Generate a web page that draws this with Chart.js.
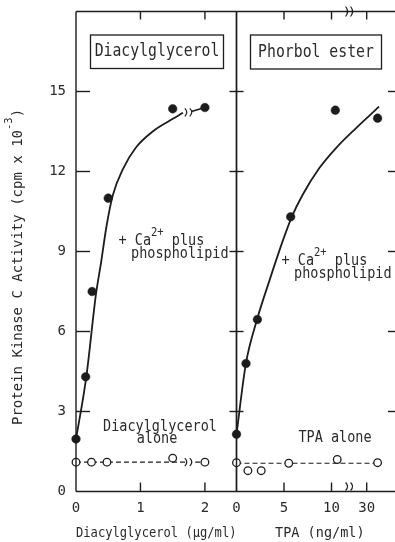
<!DOCTYPE html>
<html>
<head>
<meta charset="utf-8">
<script src="https://cdn.jsdelivr.net/npm/chart.js@4.4.1/dist/chart.umd.min.js"></script>
<style>
html, body { margin: 0; padding: 0; background: #fff; overflow: hidden; }
#wrap { position: relative; width: 395px; height: 542px; overflow: hidden; }
canvas { position: absolute; left: 0; top: 0; }
</style>
</head>
<body>
<div id="wrap">
  <canvas id="dgChart" width="395" height="542"></canvas>
  <canvas id="tpaChart" width="395" height="542"></canvas>
</div>
<script>
// activity axis, cpm x 10^-3
const yTicks = [0, 3, 6, 9, 12, 15];

// left panel: diacylglycerol (ug/ml)
const dgTicks = [0, 1, 2];
const dgDose = [0, 0.15, 0.25, 0.5, 1.5, 2.0];
const dgWithCa = [1.97, 4.3, 7.5, 11.0, 14.35, 14.4];
const dgAloneDose = [0, 0.24, 0.48, 1.5, 2.0];
const dgAlone = [1.1, 1.1, 1.1, 1.25, 1.1];
// hand drawn curves (null = break in the line)
const dgCurveX = [0, 0.16, 0.31, 0.39, 0.47, 0.57, 0.73, 0.93, 1.19, 1.45, 1.66, 1.72, 1.79, 2.0];
const dgCurveY = [1.96, 4.3, 7.4, 8.6, 9.9, 11.1, 12.1, 12.9, 13.5, 13.9, 14.2, null, 14.25, 14.4];
const dgAloneLineX = [0, 1.71, 1.78, 1.85, 2.0];
const dgAloneLineY = [1.1, 1.1, null, 1.1, 1.1];
const dgBreak = 1.75;

// right panel: TPA (ng/ml), positions in axis units (axis broken between 10 and 30)
const tpaTickPos = [0, 5, 10, 13.7];
const tpaTickLabels = ['0', '5', '10', '30'];
const tpaDose = [0, 1, 2.2, 5.7, 10.4, 14.85];
const tpaWithCa = [2.15, 4.8, 6.45, 10.3, 14.3, 14.0];
const tpaAloneDose = [0, 1.2, 2.6, 5.5, 10.6, 14.85];
const tpaAlone = [1.08, 0.78, 0.78, 1.06, 1.2, 1.08];
const tpaCurveX = [0, 0.98, 2.17, 3.43, 4.84, 5.82, 6.95, 8.7, 10.45, 12.56, 15.0];
const tpaCurveY = [2.15, 4.78, 6.46, 7.87, 9.37, 10.3, 11.12, 12.12, 12.87, 13.62, 14.43];
const tpaAloneLineX = [0, 14.85];
const tpaAloneLineY = [1.06, 1.06];
const tpaBreak = 11.9;

const ink = '#1c1c1c';
const txt = '#2a2a2a';
const mono = '"DejaVu Sans Mono", monospace';

Chart.defaults.font.family = mono;
Chart.defaults.color = txt;

function pts(xs, ys) {
    return xs.map((x, i) => ({x: x, y: ys[i]}));
}

function filledSet(xs, ys) {
    return {data: pts(xs, ys), showLine: false, pointRadius: 4.3, pointBackgroundColor: ink, pointBorderColor: ink, pointBorderWidth: 0.5, clip: false};
}
function openSet(xs, ys) {
    return {data: pts(xs, ys), showLine: false, pointRadius: 3.8, pointBackgroundColor: '#fff', pointBorderColor: ink, pointBorderWidth: 1.3, clip: false};
}
function curveSet(xs, ys) {
    return {data: pts(xs, ys), borderColor: ink, borderWidth: 1.8, pointRadius: 0, cubicInterpolationMode: 'monotone', spanGaps: false, clip: false};
}
function dashSet(xs, ys) {
    return {data: pts(xs, ys), borderColor: ink, borderWidth: 1.2, borderDash: [5, 3], pointRadius: 0, tension: 0, spanGaps: false, clip: false};
}

// keep the plot area exactly where the layout padding puts it
function fixSize(prop, size) {
    return s => {
        s[prop] = size;
        s.paddingTop = 0; s.paddingBottom = 0;
        s.paddingLeft = 0; s.paddingRight = 0;
    };
}

function line(ctx, x1, y1, x2, y2) {
    ctx.beginPath();
    ctx.moveTo(x1, y1);
    ctx.lineTo(x2, y2);
    ctx.stroke();
}

function breakMark(ctx, cx, cy, h) {
    [-2.5, 2.5].forEach(d => {
        ctx.beginPath();
        ctx.moveTo(cx + d - 1.5, cy - h);
        ctx.quadraticCurveTo(cx + d + 2.5, cy, cx + d - 1.5, cy + h);
        ctx.stroke();
    });
}

// text with a slight vertical stretch, like the typewriter lettering
function say(ctx, s, x, y, size, align, stretch) {
    ctx.save();
    ctx.font = size + 'px ' + mono;
    ctx.fillStyle = txt;
    ctx.textAlign = align || 'left';
    ctx.textBaseline = 'middle';
    ctx.translate(x, y);
    ctx.scale(1, stretch || 1.12);
    ctx.fillText(s, 0, 0);
    ctx.restore();
    ctx.font = size + 'px ' + mono;
    return ctx.measureText(s).width;
}

function caLabel(ctx, x, y) {
    let w = say(ctx, '+ Ca', x, y, 13.5);
    w += say(ctx, '2+', x + w, y - 8, 10.5);
    say(ctx, ' plus', x + w, y, 13.5);
    say(ctx, 'phospholipid', x + 12.5, y + 13.5, 13.5);
}

function box(ctx, s, x, y, w, h) {
    ctx.lineWidth = 1.3;
    ctx.strokeRect(x, y, w, h);
    say(ctx, s, x + w / 2, y + h / 2, 14.8, 'center', 1.2);
}

const dgFrame = {
    id: 'dgFrame',
    afterDraw(chart) {
        const {ctx, chartArea: a, scales: {x, y}} = chart;
        ctx.save();
        ctx.strokeStyle = ink;
        ctx.lineWidth = 1.4;
        line(ctx, a.left, a.top, a.right, a.top);
        line(ctx, a.left, a.top, a.left, a.bottom);
        line(ctx, a.left, a.bottom, a.right, a.bottom);
        line(ctx, a.right, a.top, a.right, a.bottom);
        yTicks.slice(1).forEach(v => {
            const py = y.getPixelForValue(v);
            line(ctx, a.left, py, a.left + 14, py);
            line(ctx, a.right - 7, py, a.right, py);
        });
        dgTicks.slice(1).forEach(v => {
            const px = x.getPixelForValue(v);
            line(ctx, px, a.bottom, px, a.bottom - 9);
            line(ctx, px, a.top, px, a.top + 8);
        });
        ctx.lineWidth = 1.2;
        const bx = x.getPixelForValue(dgBreak);
        breakMark(ctx, bx, y.getPixelForValue(14.22), 4);
        breakMark(ctx, bx, y.getPixelForValue(1.1), 4);

        box(ctx, 'Diacylglycerol', 90.5, 35, 133, 33.5);
        caLabel(ctx, 118.5, 241);
        say(ctx, 'Diacylglycerol', 160, 427, 13.5, 'center');
        say(ctx, 'alone', 157, 439.5, 13.5, 'center');

        // y title with superscript
        ctx.save();
        ctx.translate(18.5, 425);
        ctx.rotate(-Math.PI / 2);
        let w = say(ctx, 'Protein Kinase C Activity (cpm x 10', 0, 0, 14, 'left', 1);
        w += say(ctx, '-3', w, -9, 10.5, 'left', 1);
        say(ctx, ')', w, 0, 14, 'left', 1);
        ctx.restore();
        ctx.restore();
    }
};

const tpaFrame = {
    id: 'tpaFrame',
    afterDraw(chart) {
        const {ctx, chartArea: a, scales: {x, y}} = chart;
        ctx.save();
        ctx.strokeStyle = ink;
        ctx.lineWidth = 1.4;
        line(ctx, a.left, a.top, a.right, a.top);
        line(ctx, a.left, a.top, a.left, a.bottom);
        line(ctx, a.left, a.bottom, a.right, a.bottom);
        yTicks.slice(1).forEach(v => {
            const py = y.getPixelForValue(v);
            line(ctx, a.left, py, a.left + 7, py);
            line(ctx, a.right - 7, py, a.right, py);
        });
        tpaTickPos.slice(1).forEach(v => {
            const px = x.getPixelForValue(v);
            line(ctx, px, a.bottom, px, a.bottom - 9);
            line(ctx, px, a.top, px, a.top + 8);
        });
        ctx.lineWidth = 1.2;
        const bx = x.getPixelForValue(tpaBreak);
        breakMark(ctx, bx, a.top, 5);
        breakMark(ctx, bx, a.bottom - 5, 4);

        box(ctx, 'Phorbol ester', 250.5, 35, 131, 34);
        caLabel(ctx, 281.5, 261);
        say(ctx, 'TPA alone', 335, 438.5, 13.5, 'center');
        ctx.restore();
    }
};

const commonPlugins = {legend: {display: false}, tooltip: {enabled: false}};

let dgChart = new Chart(document.getElementById('dgChart'), {
    type: 'line',
    data: {
        datasets: [
            filledSet(dgDose, dgWithCa),
            openSet(dgAloneDose, dgAlone),
            curveSet(dgCurveX, dgCurveY),
            dashSet(dgAloneLineX, dgAloneLineY)
        ]
    },
    options: {
        responsive: false,
        animation: false,
        layout: {autoPadding: false, padding: {left: 0, top: 11.5, right: 158.5, bottom: 0}},
        plugins: commonPlugins,
        scales: {
            x: {
                type: 'linear', min: 0, max: 2.49,
                border: {display: false},
                grid: {display: false, drawTicks: false},
                afterBuildTicks: s => { s.ticks = dgTicks.map(v => ({value: v})); },
                ticks: {font: {size: 14}, color: txt, padding: 8, maxRotation: 0},
                title: {display: true, text: 'Diacylglycerol (μg/ml)', font: {size: 13.5}, color: txt, padding: 0},
                afterFit: fixSize('height', 50.5)
            },
            y: {
                type: 'linear', min: 0, max: 18,
                border: {display: false},
                grid: {display: false, drawTicks: false},
                afterBuildTicks: s => { s.ticks = yTicks.map(v => ({value: v})); },
                ticks: {font: {size: 14}, color: txt, padding: 10},
                afterFit: fixSize('width', 76)
            }
        }
    },
    plugins: [dgFrame]
});

let tpaChart = new Chart(document.getElementById('tpaChart'), {
    type: 'line',
    data: {
        datasets: [
            filledSet(tpaDose, tpaWithCa),
            openSet(tpaAloneDose, tpaAlone),
            curveSet(tpaCurveX, tpaCurveY),
            dashSet(tpaAloneLineX, tpaAloneLineY)
        ]
    },
    options: {
        responsive: false,
        animation: false,
        layout: {autoPadding: false, padding: {left: 236.5, top: 11.5, right: 0, bottom: 0}},
        plugins: commonPlugins,
        scales: {
            x: {
                type: 'linear', min: 0, max: 16.68,
                border: {display: false},
                grid: {display: false, drawTicks: false},
                afterBuildTicks: s => { s.ticks = tpaTickPos.map(v => ({value: v})); },
                ticks: {
                    font: {size: 14}, color: txt, padding: 8, maxRotation: 0, autoSkip: false,
                    callback: (v, i) => tpaTickLabels[i]
                },
                title: {display: true, text: ' TPA (ng/ml)', font: {size: 13.5}, color: txt, padding: 0},
                afterFit: fixSize('height', 50.5)
            },
            y: {type: 'linear', min: 0, max: 18, display: false}
        }
    },
    plugins: [tpaFrame]
});
</script>
</body>
</html>
